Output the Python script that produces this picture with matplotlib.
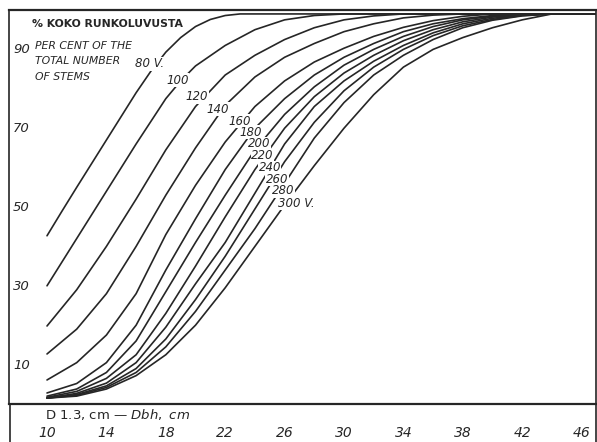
import matplotlib
matplotlib.use("Agg")
import matplotlib.pyplot as plt
from matplotlib.lines import Line2D

# ---- data ----
age_labels = ["80 V.", "100", "120", "140", "160", "180", "200", "220", "240", "260", "280", "300 V."]

x_80 = [10, 11, 12, 13, 14, 15, 16, 17, 18, 19, 20, 21, 22, 23, 47]
y_80 = [43.7, 49.9, 56.0, 62.0, 68.0, 74.0, 80.0, 85.5, 90.3, 94.0, 96.8, 98.6, 99.6, 100, 100]
x_100 = [10, 12, 14, 16, 18, 19, 20, 22, 24, 26, 28, 30, 47]
y_100 = [31, 43, 55, 67, 78.5, 83, 86.8, 92, 96, 98.5, 99.6, 100, 100]
x_120 = [10, 12, 14, 16, 18, 20, 22, 24, 26, 28, 30, 32, 34, 47]
y_120 = [20.8, 30, 41, 53, 65.5, 76.5, 84.5, 89.5, 93.5, 96.5, 98.5, 99.5, 100, 100]
x_140 = [10, 12, 14, 16, 18, 20, 22, 24, 26, 28, 30, 32, 34, 36, 38, 47]
y_140 = [13.7, 20, 29, 41, 54, 66, 76.8, 84, 89, 92.5, 95.5, 97.5, 99, 99.7, 100, 100]
x_160 = [10, 12, 14, 16, 18, 20, 22, 24, 26, 28, 30, 32, 34, 36, 38, 40, 47]
y_160 = [7.1, 11.5, 18.5, 29, 44, 56.5, 67.5, 76.5, 83, 87.8, 91.3, 94.3, 96.6, 98.3, 99.4, 100, 100]
x_180 = [10, 12, 14, 16, 18, 20, 22, 24, 26, 28, 30, 32, 34, 36, 38, 40, 42, 47]
y_180 = [3.8, 6.2, 11.5, 21, 35, 48, 60.5, 71, 78.5, 84.5, 89, 92.5, 95.5, 97.5, 98.8, 99.6, 100, 100]
x_200 = [10, 12, 14, 16, 18, 20, 22, 24, 26, 28, 30, 32, 34, 36, 38, 40, 42, 43, 47]
y_200 = [3.0, 4.8, 9, 17, 29.5, 42, 54, 65.5, 74.5, 81.5, 87, 91, 94.3, 96.8, 98.5, 99.4, 99.9, 100, 100]
x_220 = x_200
y_220 = [2.7, 4.2, 7.5, 13.5, 24, 36, 48.5, 60.5, 71, 79, 85, 89.5, 93.2, 96, 98, 99.2, 99.8, 100, 100]
x_240 = [10, 12, 14, 16, 18, 20, 22, 24, 26, 28, 30, 32, 34, 36, 38, 40, 42, 44, 47]
y_240 = [2.5, 3.7, 6.3, 11.5, 20.5, 31.5, 42, 54.5, 67, 76.5, 83, 88, 92, 95.2, 97.5, 98.9, 99.7, 100, 100]
x_260 = x_240
y_260 = [2.5, 3.4, 5.6, 10, 17.5, 27.5, 38.5, 50.5, 62.5, 72.5, 80.5, 86.5, 91, 94.5, 97, 98.6, 99.6, 100, 100]
x_280 = x_240
y_280 = [2.5, 3.2, 5.2, 9, 15.5, 24.5, 35, 45.5, 57, 68.5, 77.5, 84.5, 89.5, 93.5, 96.5, 98.4, 99.5, 100, 100]
x_300 = x_240
y_300 = [2.5, 3.0, 4.8, 8.2, 13.5, 21, 30.5, 41, 51.5, 61.5, 71, 79.5, 86.5, 91, 94, 96.5, 98.5, 100, 100]

label_x = [16.9, 18.8, 20.1, 21.5, 23.0, 23.7, 24.3, 24.5, 25.0, 25.5, 25.9, 26.8]
label_y = [87.3, 83.2, 79.0, 75.8, 72.8, 70.0, 67.0, 64.0, 61.0, 58.1, 55.1, 52.0]

x_ticks = [10, 14, 18, 22, 26, 30, 34, 38, 42, 46]
y_ticks = [10, 30, 50, 70, 90]

series = [(x_80, y_80), (x_100, y_100), (x_120, y_120), (x_140, y_140),
          (x_160, y_160), (x_180, y_180), (x_200, y_200), (x_220, y_220),
          (x_240, y_240), (x_260, y_260), (x_280, y_280), (x_300, y_300)]

ink = "#262626"
W, H = 597, 442
fig = plt.figure(figsize=(W / 100, H / 100), dpi=100)
ax = fig.add_axes([9 / W, (H - 404) / H, 587 / W, 394 / H])

for xs, ys in series:
    ax.plot(xs, ys, color=ink, lw=1.2, solid_capstyle="round", solid_joinstyle="round", zorder=2)

for lab, lx, ly in zip(age_labels, label_x, label_y):
    ax.text(lx, ly, lab, fontsize=8.5, style="italic", color=ink, ha="center", va="center",
            bbox=dict(facecolor="white", edgecolor="none", pad=0.3), zorder=3)

ax.set_xlim(7.44, 46.97)
ax.set_ylim(1.0, 101.0)
ax.set_xticks(x_ticks)
ax.set_yticks(y_ticks)
ax.set_xticklabels([str(t) for t in x_ticks], fontsize=10, style="italic", color=ink)
ax.set_yticklabels([str(t) for t in y_ticks], fontsize=9.5, style="italic", color=ink)
ax.tick_params(axis="x", length=0, pad=16)
ax.tick_params(axis="y", length=0, pad=-3)
for lbl in ax.get_yticklabels():
    lbl.set_horizontalalignment("left")
    lbl.set_verticalalignment("baseline")

for side in ["left", "right", "top", "bottom"]:
    ax.spines[side].set_color(ink)
ax.spines["left"].set_linewidth(1.2)
ax.spines["right"].set_linewidth(1.2)
ax.spines["top"].set_linewidth(1.6)
ax.spines["bottom"].set_linewidth(1.6)

# frame continues below the axis line
fig.add_artist(Line2D([9.5 / W, 9.5 / W], [0, (H - 404) / H], color=ink, lw=1.2))
fig.add_artist(Line2D([596 / W, 596 / W], [0, (H - 404) / H], color=ink, lw=1.2))

ax.set_xlabel(r"D 1.3, cm — $\it{Dbh,\ cm}$", fontsize=9.5, color=ink, ha="left", va="center")
ax.xaxis.set_label_coords((45 - 9) / 587, -11 / 394)

ax.text((32 - 9) / 587, 1 - (24 - 10) / 394, "% KOKO RUNKOLUVUSTA", transform=ax.transAxes,
        fontsize=7.8, color=ink, ha="left", va="center", fontweight="semibold")
title_lines = ["PER CENT OF THE", "TOTAL NUMBER", "OF STEMS"]
for i, t in enumerate(title_lines):
    ax.text((35 - 9) / 587, 1 - (46 + 15.5 * i - 10) / 394, t, transform=ax.transAxes,
            fontsize=7.8, style="italic", color=ink, ha="left", va="center")

fig.savefig("out.png", dpi=100, facecolor="white")
